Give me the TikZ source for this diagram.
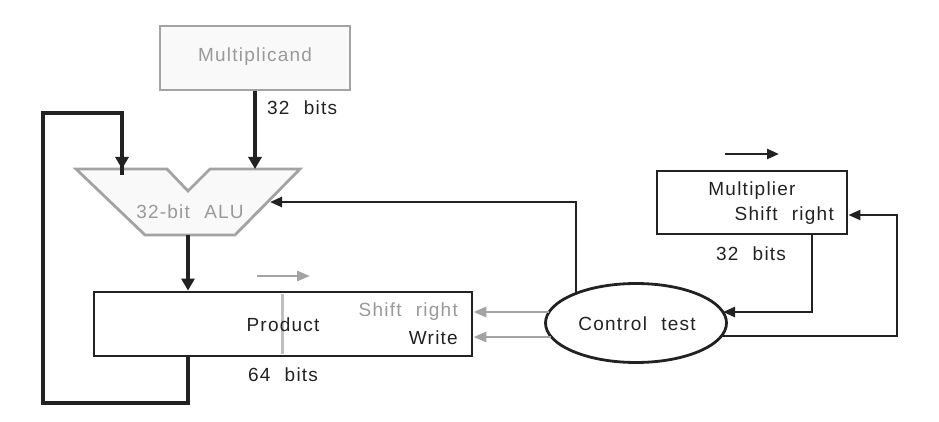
\documentclass[tikz,border=0pt]{standalone}
\usepackage{fontspec}
\setmainfont{Liberation Sans}[LetterSpace=6.5,WordSpace=2.2]
\usetikzlibrary{arrows.meta,shapes.geometric}
\definecolor{ink}{HTML}{222222}
\definecolor{dim}{HTML}{A3A3A3}
\definecolor{dimtext}{HTML}{9A9A9A}
\definecolor{paper}{HTML}{F9F9F9}
\tikzset{
  txt/.style={inner sep=0pt, font=\fontsize{19}{21}\selectfont, text=ink},
  dimtxt/.style={txt, text=dimtext},
  blackbox/.style={draw=ink, line width=2.8pt, fill=white, inner sep=0pt},
  graybox/.style={draw=dim, line width=2.8pt, fill=paper, inner sep=0pt},
  busarrow/.style={draw=ink, line width=4.6pt, -{Triangle[length=12pt,width=13pt]}},
  busline/.style={draw=ink, line width=4.6pt},
  ctlarrow/.style={draw=ink, line width=2.4pt, -{Triangle[length=12pt,width=10pt]}},
  grayarrow/.style={draw=dim, line width=2.8pt, -{Triangle[length=13pt,width=10pt]}},
}
\begin{document}
\begin{tikzpicture}[x=1pt,y=-1pt]
  \useasboundingbox (0,0) rectangle (939,422);

  % Multiplicand register
  \node[graybox, minimum width=190pt, minimum height=64pt] (mcand) at (255,58) {};
  \node[dimtxt] (mcandlbl) at (255,57) {Multiplicand};

  % ALU outline with the notch between its two inputs
  \coordinate (aluA) at (122,169);
  \coordinate (aluB) at (255,169);
  \coordinate (aluOut) at (188,235);
  \coordinate (aluSide) at (270,202);
  \draw[draw=dim, line width=2.8pt, fill=paper, line join=miter]
    (76,169) -- (167,169) -- (188,191) -- (210,169) -- (300,169)
    -- (235,235) -- (145,235) -- cycle;
  \node[dimtxt] (alulbl) at (190,212) {32-bit ALU};

  % Product register
  \node[blackbox, minimum width=378pt, minimum height=64pt] (prod) at (283,324) {};
  \draw[draw=dim!70, line width=3pt] (282,294) -- (282,354);
  \node[txt] (prodlbl) at (283,325) {Product};
  \node[dimtxt, anchor=east] (prodshift) at (458,312) {Shift right};
  \node[txt, anchor=east] (prodwrite) at (458,338) {Write};
  \node[txt] (prodbits) at (283,375) {64 bits};
  \coordinate (pshA) at (257,276);
  \coordinate (pshB) at (310,276);
  \draw[grayarrow] (pshA) -- (pshB);

  % Multiplier register
  \node[blackbox, minimum width=190pt, minimum height=63pt] (mplier) at (752,202.5) {};
  \node[txt] (mplbl) at (752,191) {Multiplier};
  \node[txt, anchor=east] (mpshift) at (834,216) {Shift right};
  \node[txt] (mpbits) at (751,254) {32 bits};
  \coordinate (mshA) at (725,154);
  \coordinate (mshB) at (779,154);
  \draw[ctlarrow] (mshA) -- (mshB);

  % Control unit
  \node[draw=ink, line width=2.8pt, fill=white, ellipse, minimum width=181pt, minimum height=79pt, inner sep=0pt] (ctrl) at (636,323) {};
  \node[txt] (ctrllbl) at (637,324) {Control test};

  % Data paths
  \draw[busarrow] (mcand.south) -- (aluB);
  \node[txt, anchor=west] (mcbits) at (267,108) {32 bits};
  \draw[busarrow] (aluOut) -- (aluOut |- prod.north);
  \coordinate (fbLow) at (43,403);
  \coordinate (fbHigh) at (43,113);
  \draw[busline, line join=miter] (aluOut |- prod.south) |- (fbLow) -- (fbHigh) -| ([yshift=-6pt]aluA);
  \draw[busarrow] (122,111) -- (aluA);

  % Control paths
  \coordinate (ctrlTop) at (576,294);
  \draw[ctlarrow] (ctrlTop) |- (aluSide);
  \coordinate (ctrlShift) at (549,312);
  \coordinate (ctrlWrite) at (551,337);
  \draw[grayarrow] (ctrlShift) -- (prod.east |- ctrlShift);
  \draw[grayarrow] (ctrlWrite) -- (prod.east |- ctrlWrite);
  \coordinate (mpTap) at (812,234);
  \coordinate (ctrlIn) at (723,312);
  \draw[ctlarrow] (mpTap) |- (ctrlIn);
  \coordinate (ctrlOut) at (721,336);
  \coordinate (loopR) at (897,215);
  \draw[ctlarrow] (ctrlOut) -| (loopR) -- (mplier.east |- loopR);
\end{tikzpicture}
\end{document}
